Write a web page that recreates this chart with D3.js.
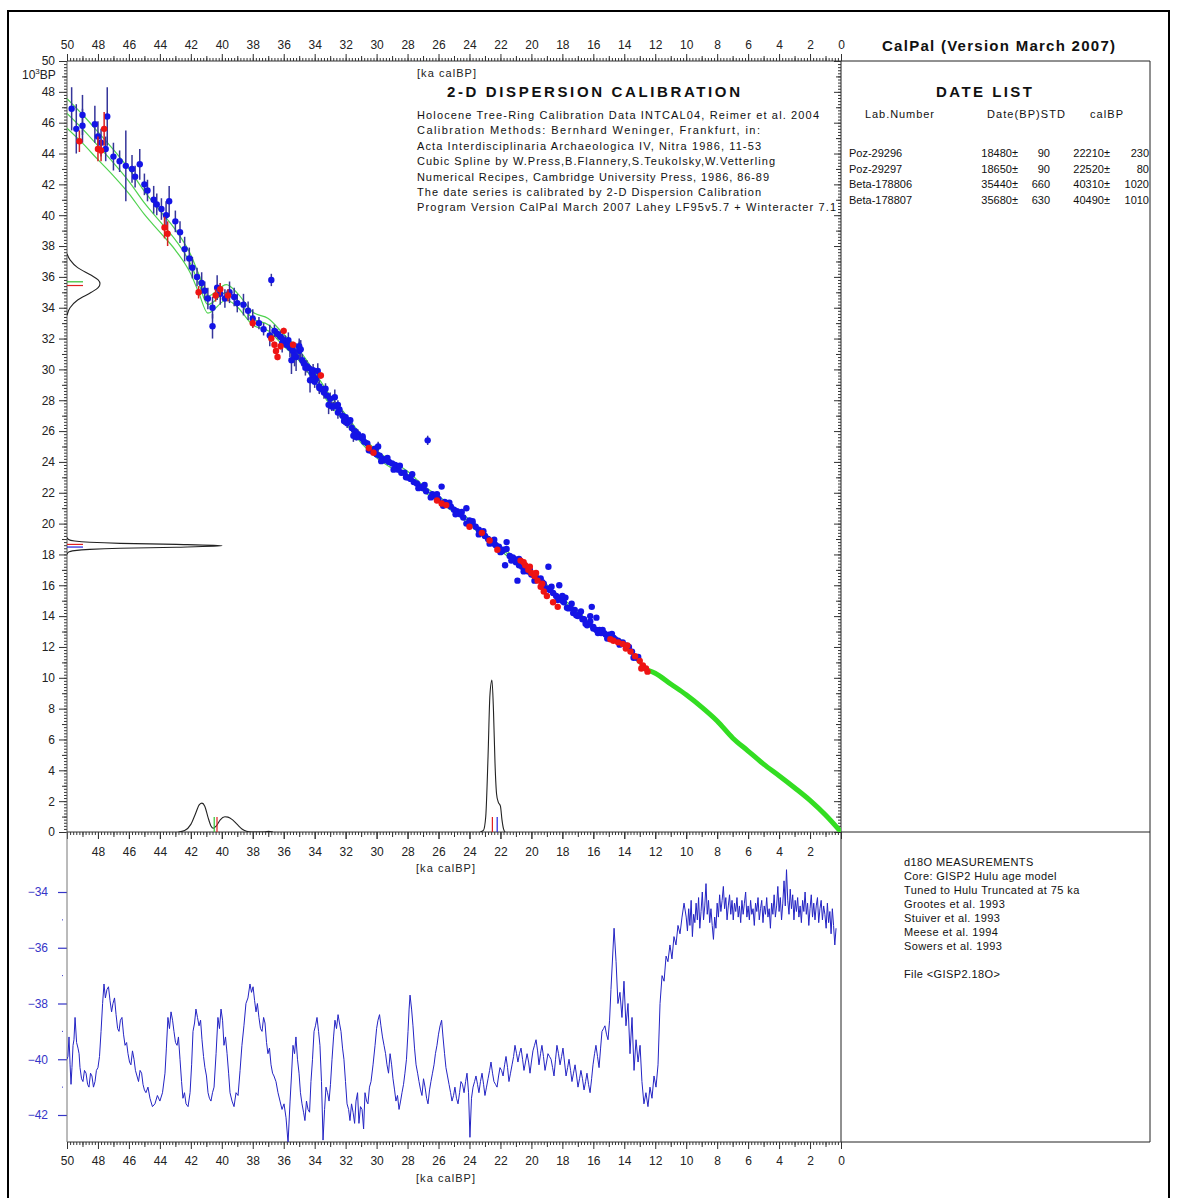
<!DOCTYPE html>
<html>
<head>
<meta charset="utf-8">
<script src="https://cdn.jsdelivr.net/npm/d3@7"></script>
<style>
  body { margin: 0; background: #fff; }
  svg { font-family: "Liberation Sans", Arial, sans-serif; }
</style>
</head>
<body>
<svg id="chart" width="1177" height="1198"></svg>
<script>
// ---------- data ----------
// calibration curve: ka calBP -> 10^3 BP, with 1-sigma
const curveKa  = [0,1,2,3,4,5,6,7,8,9,10,11,12,12.5,13,14,15,16,17,18,19,20,21,22,23,24,25,26,27,28,29,30,31,32,33,34,35,36,37,38,39,39.7,40.9,41.5,42,43,44,45,46,47,48,49,50];
const curveBP  = [0,1.1,2.05,2.87,3.65,4.4,5.25,6.1,7.2,8.1,8.9,9.6,10.3,10.5,11.0,12.2,12.7,13.2,14.2,15.0,15.9,16.7,17.6,18.4,19.2,20.1,20.9,21.6,22.3,23.2,23.8,24.5,25.5,26.8,28.0,29.5,30.9,31.9,32.9,33.3,34.5,35.0,34.2,35.6,36.8,38.4,39.6,40.8,42.2,43.4,44.5,45.6,46.6];
const curveSig = [0.03,0.03,0.03,0.03,0.03,0.03,0.03,0.03,0.03,0.03,0.03,0.03,0.03,0.03,0.12,0.12,0.12,0.13,0.13,0.14,0.14,0.15,0.15,0.15,0.16,0.16,0.17,0.18,0.19,0.2,0.22,0.24,0.26,0.28,0.3,0.32,0.35,0.38,0.4,0.42,0.45,0.5,0.55,0.6,0.62,0.66,0.7,0.75,0.8,0.85,0.9,0.93,0.96];

// calibration data points [ka calBP, 10^3 BP, error]
const bluePoints = [
  [49.7,46.9,1.4],[49.4,45.6,1.6],[49.0,46.5,1.3],[49.0,45.8,1.1],[48.2,45.9,1.2],[48.0,45.1,1.0],[47.8,44.7,0.9],[47.4,46.4,1.9],
  [47.5,44.3,0.8],[47.0,43.8,0.9],[46.6,43.5,0.7],[46.2,43.2,2.3],[45.8,43.0,0.9],[45.6,42.5,0.7],[45.3,43.3,1.0],[45.0,42.0,0.7],
  [44.8,41.6,0.7],[44.4,41.0,0.9],[44.2,40.7,0.7],[43.9,40.4,0.7],[43.6,40.0,0.9],[43.4,40.9,1.0],[43.0,39.6,0.7],[42.7,38.9,0.7],
  [42.4,37.8,0.8],[42.1,37.2,0.7],[41.9,36.6,0.7],[41.6,36.0,0.6],[41.3,35.6,0.7],[41.1,35.1,0.6],[40.9,34.6,0.7],[40.6,34.0,0.7],
  [40.6,32.8,0.8],[40.3,35.3,0.8],[40.1,34.9,0.7],[39.8,34.6,0.6],[39.5,35.0,0.7],[39.2,34.7,0.6],[39.0,34.3,0.6],[38.6,34.2,0.7],
  [38.3,33.8,0.6],[38.0,33.3,0.6],[37.6,33.0,0.4],[37.3,32.6,0.4],[36.8,35.8,0.4],[36.9,32.2,0.7],[36.6,32.5,0.4],[36.2,32.1,0.4],
  [35.9,31.8,0.4],[35.6,31.4,0.6],[35.2,30.8,0.9],[35.0,31.5,0.5],[34.8,30.6,0.4],[34.5,30.2,0.4],[34.2,29.8,0.4],[34.0,29.2,0.4],
  [33.7,28.9,0.4],[33.4,28.5,0.4],[33.0,28.1,0.4],[32.8,27.6,0.3],[32.5,27.2,0.4],[32.2,27.0,0.3],[31.9,26.5,0.3],[31.6,26.2,0.3],
  [31.2,25.8,0.3],[30.9,25.5,0.2],[30.6,25.2,0.2],[30.3,24.7,0.2],[30.0,24.5,0.2],[29.6,24.2,0.2],[29.2,24.0,0.2],[28.8,23.8,0.2],
  [28.4,23.3,0.2],[28.0,23.0,0.2],[27.6,22.7,0.2],[27.2,22.4,0.2],[26.7,25.4,0.3],[26.8,22.1,0.1],[26.4,21.9,0.1],[25.8,22.4,0.1],
  [25.6,21.4,0.1],[25.2,21.1,0.1],[24.8,20.8,0.1],[24.4,20.4,0.1],[24.2,21.0,0.1],[23.8,20.0,0.1],[23.4,19.6,0.1],[23.0,19.2,0.1],
  [22.6,18.8,0.1],[22.3,18.6,0.1],[21.9,18.2,0.1],[21.6,18.8,0.1],[21.7,17.3,0.1],[21.4,17.9,0.1],[21.1,17.7,0.1],[20.9,16.3,0.1],
  [20.8,17.3,0.1],[20.4,17.0,0.1],[20.0,16.7,0.1],[19.6,16.4,0.1],[19.2,16.1,0.1],[18.9,17.2,0.1],[18.8,15.7,0.1],[18.4,15.3,0.1],
  [18.2,16.0,0.1],[18.0,15.0,0.1],[17.8,15.2,0.1],[17.6,14.5,0.1],[17.3,14.2,0.1],[17.0,14.0,0.1],[16.7,13.8,0.1],[16.4,13.4,0.1],
  [16.1,14.6,0.1],[16.2,14.0,0.1],[15.8,13.9,0.1],[16.0,13.2,0.1],[15.6,13.1,0.1],[15.3,12.9,0.1],[15.0,12.8,0.1],[14.7,12.6,0.1],
  [14.4,12.4,0.1],[14.1,12.3,0.1],[13.8,12.0,0.1],
  [13.2,11.3,0.08],[13.5,11.7,0.08],[13.9,12.1,0.08],[14.2,12.25,0.08],[14.6,12.5,0.08],[14.9,12.65,0.08],[15.2,12.8,0.08],[15.5,12.9,0.08],
  [15.8,13.1,0.08],[16.0,13.3,0.08],[16.3,13.5,0.08],[16.6,13.8,0.08],[16.9,14.1,0.08],[17.2,14.4,0.08],[17.5,14.55,0.08],[17.9,14.9,0.08],
  [18.1,15.2,0.08],[18.6,15.5,0.08],[19.0,15.8,0.08],[19.3,16.2,0.08],[19.7,16.5,0.08],[20.2,16.9,0.08],[20.6,17.2,0.08],[21.0,17.5,0.08],
  [21.2,17.8,0.08],[21.8,18.3,0.08],[22.1,18.5,0.08],[22.4,18.7,0.08],[22.8,19.0,0.08],[23.2,19.4,0.08],[23.6,19.8,0.08],[24.0,20.2,0.08],
  [24.6,20.6,0.08],[25.0,20.9,0.08],[25.4,21.3,0.08],[26.0,21.6,0.08],[26.2,21.75,0.08],[27.0,22.3,0.1],[27.4,22.6,0.1],[27.8,22.9,0.1],
  [28.2,23.3,0.1],[28.6,23.5,0.1],[29.0,23.9,0.1],[29.4,24.1,0.1],[29.8,24.4,0.12],[30.2,24.8,0.12],[30.8,25.3,0.15],[31.0,25.6,0.15],
  [31.4,26.0,0.15],[31.8,26.6,0.15],[32.0,26.9,0.15],[32.4,27.4,0.2],[32.6,27.6,0.2],[33.2,28.3,0.2],[33.5,28.7,0.2],[33.9,29.4,0.2],
  [34.1,29.6,0.2],[34.4,30.1,0.2],[34.7,30.4,0.2],[35.4,31.2,0.25],[35.8,31.6,0.25],[36.0,31.9,0.3],[36.4,32.3,0.3],
  [13.1,11.35,0.08],[13.4,11.3,0.08],[13.7,12.0,0.08],[14.3,12.15,0.08],[14.8,12.85,0.08],[15.1,12.55,0.08],[15.4,13.1,0.08],[15.7,12.9,0.08],
  [16.2,13.65,0.08],[16.5,13.5,0.08],[16.8,14.3,0.08],[17.1,14.05,0.08],[17.4,14.8,0.08],[17.7,14.55,0.08],[18.0,15.3,0.08],[18.3,15.05,0.08],
  [18.7,15.9,0.08],[19.1,15.75,0.08],[19.4,16.45,0.08],[19.8,16.3,0.08],[20.1,17.0,0.08],[20.5,16.9,0.08],[20.8,17.7,0.08],[21.3,17.6,0.08],
  [21.6,18.35,0.08],[22.0,18.15,0.08],[22.4,18.95,0.08],[22.7,18.7,0.08],[23.1,19.5,0.08],[23.4,19.3,0.08],[23.8,20.15,0.08],[24.2,20.0,0.08],
  [24.5,20.75,0.08],[24.9,20.6,0.08],[25.3,21.35,0.08],[25.7,21.15,0.08],[26.1,21.9,0.08],[26.5,21.7,0.08],[26.9,22.5,0.1],[27.3,22.3,0.1],
  [27.7,23.2,0.1],[28.1,23.0,0.1],[28.5,23.75,0.1],[28.9,23.5,0.1],[29.3,24.25,0.12],[29.7,24.05,0.12],[30.1,24.85,0.15],[30.5,24.75,0.15],
  [30.9,25.65,0.2],[31.3,25.6,0.2],[31.7,26.7,0.2],[32.1,26.65,0.25],[32.5,27.7,0.3],[32.9,27.6,0.3],[33.3,28.75,0.35],[33.7,28.8,0.4],
  [34.1,29.95,0.4],[34.6,30.1,0.5],[35.0,31.2,0.6],[35.3,30.9,0.7],[35.7,31.9,0.5],[36.1,31.7,0.6],
  [35.5,30.6,0.9],[34.9,31.3,0.6],[34.3,29.3,0.8],[33.8,29.9,0.5],[33.1,27.7,0.6],[32.7,28.2,0.5],[31.5,25.7,0.4],[29.9,25.0,0.3]
];
const redPoints = [
  [49.2,44.8,0.7],[48.0,44.3,0.8],[47.6,45.6,1.1],[47.8,44.2,0.7],[43.7,39.2,0.7],[43.5,38.8,0.8],[41.5,35.0,0.4],[40.4,34.8,0.4],
  [40.1,35.2,0.4],[39.6,34.8,0.4],[38.0,33.0,0.3],[36.8,32.0,0.2],[36.6,31.6,0.2],[36.5,31.2,0.2],[36.4,30.8,0.2],[36.2,31.5,0.2],
  [36.0,32.5,0.2],[35.4,31.6,0.2],[33.6,29.6,0.2],[30.5,24.9,0.2],[30.2,24.6,0.2],[26.1,21.5,0.1],[25.8,21.3,0.1],[25.5,21.2,0.1],
  [24.0,19.8,0.1],[23.2,19.4,0.1],[22.7,18.9,0.1],[22.2,18.3,0.1],[20.7,17.6,0.1],[20.4,17.3,0.1],[20.2,17.0,0.1],[20.0,16.8,0.1],
  [19.8,16.6,0.1],[19.6,16.3,0.1],[19.4,15.9,0.1],[19.2,15.6,0.1],[19.0,15.3,0.1],[18.6,14.9,0.1],[18.3,14.6,0.1],[14.7,12.4,0.1],
  [14.4,12.3,0.1],[14.1,12.2,0.1],[13.8,12.1,0.1],[13.6,11.7,0.1],[13.3,11.4,0.1],[13.0,11.1,0.1],[12.8,10.8,0.1],[12.5,10.4,0.1],
  [20.5,17.5,0.1],[20.1,17.2,0.1],[19.7,16.8,0.1],[19.3,16.1,0.1],[14.9,12.5,0.1],[13.9,11.9,0.1],[12.9,10.6,0.1],[12.6,10.6,0.1]
];

// date list
const labNumbers = ["Poz-29296", "Poz-29297", "Beta-178806", "Beta-178807"];
const datesBP    = [18480, 18650, 35440, 35680];
const datesStd   = [90, 90, 660, 630];
const calBP      = [22210, 22520, 40310, 40490];
const calStd     = [230, 80, 1020, 1010];
const dateColors = ["#2020e0", "#e02020", "#e02020", "#30c030"];

// probability curves: 14C side [10^3 BP, density] and calendar side [ka calBP, density]
const probBP1  = [[33.5,0],[34.0,0.02],[34.5,0.07],[35.0,0.16],[35.3,0.205],[35.56,0.217],[35.8,0.205],[36.1,0.16],[36.6,0.07],[37.1,0.02],[37.5,0]];
const probBP2  = [[18.0,0],[18.15,0.01],[18.25,0.05],[18.33,0.15],[18.40,0.35],[18.47,0.72],[18.56,1.02],[18.65,0.72],[18.72,0.35],[18.79,0.15],[18.87,0.05],[18.97,0.01],[19.1,0]];
const probCal1 = [[42.8,0],[42.4,0.01],[42.0,0.05],[41.7,0.12],[41.45,0.18],[41.28,0.19],[41.1,0.17],[40.9,0.1],[40.7,0.04],[40.55,0.025],[40.35,0.04],[40.1,0.08],[39.8,0.1],[39.6,0.098],[39.3,0.08],[39.0,0.05],[38.7,0.02],[38.4,0.005],[38.1,0],[37.3,0],[37.0,0.004],[36.7,0]];
const probCal2 = [[23.3,0],[23.1,0.01],[22.95,0.1],[22.8,0.5],[22.68,0.9],[22.55,1.0],[22.45,0.8],[22.35,0.45],[22.25,0.25],[22.15,0.2],[22.0,0.17],[21.9,0.08],[21.8,0.02],[21.7,0]];

// GISP2 d18O, [ka calBP, permil]
const d18oGlacial = [
  [50.00,-40.0],[49.87,-39.2],[49.74,-40.9],[49.61,-39.5],[49.48,-38.5],[49.29,-39.6],[49.16,-40.3],[48.97,-40.8],[48.77,-40.5],[48.58,-41.0],
  [48.39,-40.6],[48.19,-40.8],[48.00,-40.3],[47.80,-39.0],[47.61,-37.3],[47.42,-37.5],[47.22,-37.9],[47.03,-38.0],[46.83,-38.4],[46.64,-39.0],
  [46.45,-38.5],[46.25,-39.5],[46.06,-39.8],[45.87,-40.2],[45.67,-40.0],[45.48,-40.6],[45.28,-40.4],[45.09,-40.9],[44.90,-41.2],[44.64,-41.4],
  [44.32,-41.6],[44.00,-41.5],[43.67,-40.5],[43.48,-38.5],[43.28,-38.3],[43.09,-39.0],[42.89,-39.5],[42.70,-40.0],[42.51,-41.4],[42.31,-41.6],
  [42.05,-41.2],[41.86,-39.0],[41.67,-38.2],[41.47,-38.8],[41.28,-39.3],[41.09,-40.3],[40.89,-41.2],[40.70,-41.5],[40.50,-41.0],[40.25,-38.5],
  [40.05,-38.2],[39.86,-39.5],[39.66,-39.8],[39.47,-41.2],[39.21,-41.7],[38.95,-41.3],[38.70,-39.5],[38.44,-38.0],[38.18,-37.3],[37.98,-37.4],
  [37.79,-38.3],[37.60,-38.5],[37.40,-39.0],[37.21,-38.7],[37.02,-39.8],[36.82,-40.2],[36.63,-40.6],[36.37,-41.2],[36.11,-41.8],[35.85,-42.1],
  [35.72,-43.0],[35.59,-41.5],[35.40,-39.5],[35.21,-39.2],[35.01,-40.5],[34.82,-41.6],[34.63,-42.2],[34.43,-41.8],[34.24,-40.8],[34.04,-39.0],
  [33.85,-38.5],[33.66,-39.5],[33.46,-42.9],[33.27,-41.0],[33.07,-41.5],[32.88,-40.0],[32.69,-38.6],[32.49,-38.4],[32.30,-39.0],[32.11,-40.0],
  [31.91,-41.6],[31.72,-42.2],[31.52,-41.9],[31.33,-41.5],[31.14,-42.3],[30.94,-41.8],[30.75,-41.2],[30.56,-41.6],[30.36,-40.8],[30.10,-39.5],
  [29.91,-38.6],[29.72,-38.8],[29.52,-39.5],[29.33,-40.2],[29.13,-39.8],[28.94,-40.7],[28.75,-41.5],[28.55,-41.8],[28.36,-41.2],[28.17,-40.5],
  [27.97,-39.0],[27.84,-37.7],[27.65,-38.8],[27.45,-40.2],[27.26,-40.8],[27.07,-41.3],[26.87,-41.0],[26.68,-41.6],[26.49,-40.8],[26.29,-40.2],
  [26.10,-39.5],[25.90,-38.8],[25.71,-39.2],[25.52,-40.3],[25.32,-40.9],[25.13,-41.5],[24.94,-41.0],[24.74,-41.6],[24.55,-40.8],[24.35,-41.2],
  [24.16,-40.5],[23.97,-42.8],[23.77,-41.0],[23.58,-40.6],[23.39,-41.2],[23.19,-40.5],[23.00,-41.3],[22.80,-40.7],[22.61,-40.1],[22.42,-40.8],
  [22.22,-41.0],[22.03,-40.3],[21.83,-40.6],[21.64,-39.9],[21.45,-40.8],[21.25,-40.2],[21.06,-39.5],[20.87,-40.1],[20.67,-39.6],[20.48,-40.4],
  [20.28,-39.8],[20.09,-40.5],[19.90,-39.7],[19.70,-39.3],[19.51,-40.2],[19.32,-39.5],[19.12,-40.4],[18.93,-39.8],[18.73,-40.0],[18.54,-40.6],
  [18.35,-39.5],[18.15,-40.2],[17.96,-39.6],[17.76,-40.6],[17.57,-40.0],[17.38,-40.8],[17.18,-40.2],[16.99,-41.0],[16.80,-40.4],[16.60,-41.1],
  [16.41,-40.5],[16.21,-41.2],[16.02,-40.2],[15.83,-39.5],[15.63,-40.3],[15.44,-39.0],[15.25,-38.8],[15.05,-39.3],[14.86,-37.5],[14.66,-35.3],
  [14.53,-36.5],[14.41,-38.0],[14.28,-37.6],[14.15,-38.5],[14.02,-37.2],[13.89,-38.8],[13.76,-38.0],[13.63,-39.8],[13.50,-38.5],[13.37,-40.4],
  [13.24,-39.3],[13.11,-40.1],[12.98,-39.5],[12.86,-40.8],[12.73,-41.6],[12.60,-41.2],[12.47,-41.7],[12.34,-41.0],[12.21,-41.4],[12.08,-40.6],
  [11.95,-41.0],[11.82,-40.2],[11.69,-38.0],[11.56,-37.0],[11.43,-37.2],[11.30,-36.3],[11.18,-36.5],[11.05,-35.9],[10.92,-36.4],[10.79,-35.6],
  [10.66,-35.9],[10.53,-35.2],[10.40,-35.5],[10.27,-34.9],[10.14,-34.4]
];
// extra, finer glacial samples between the ones above
const d18oDetail = [
  [49.94,-39.9],[49.80,-40.2],[49.68,-40.3],[49.55,-39.3],[49.38,-39.4],[49.22,-39.8],[49.06,-40.7],[48.87,-40.4],[48.67,-40.9],[48.48,-40.5],
  [48.29,-41.0],[48.10,-40.4],[47.90,-39.9],[47.70,-38.0],[47.52,-37.8],[47.32,-37.4],[47.12,-38.3],[46.93,-37.8],[46.73,-38.9],[46.55,-38.6],
  [46.35,-39.1],[46.15,-39.4],[45.96,-40.1],[45.77,-39.7],[45.58,-40.4],[45.38,-40.8],[45.18,-40.5],[45.00,-41.1],[44.77,-41.0],[44.48,-41.7],
  [44.16,-41.3],[43.83,-41.2],[43.58,-39.6],[43.38,-38.9],[43.18,-38.6],[42.99,-39.4],[42.80,-39.2],[42.60,-40.8],[42.41,-41.2],[42.18,-41.7],
  [41.95,-40.2],[41.76,-38.7],[41.57,-38.5],[41.37,-38.6],[41.18,-39.9],[40.99,-40.6],[40.80,-41.4],[40.60,-41.2],[40.37,-39.8],[40.15,-38.9],
  [39.95,-38.6],[39.76,-39.2],[39.56,-40.5],[39.34,-41.5],[39.08,-41.2],[38.82,-40.4],[38.57,-38.8],[38.31,-37.8],[38.08,-37.6],[37.88,-37.9],
  [37.70,-38.0],[37.50,-38.9],[37.30,-38.5],[37.11,-39.4],[36.92,-39.6],[36.72,-40.5],[36.50,-40.8],[36.24,-41.5],[35.98,-41.6],[35.50,-40.6],
  [35.30,-39.8],[35.11,-40.0],[34.92,-41.2],[34.72,-41.9],[34.53,-41.5],[34.33,-41.9],[34.14,-40.0],[33.95,-38.8],[33.75,-39.0],[33.56,-40.8],
  [33.36,-41.8],[33.17,-41.2],[32.98,-40.9],[32.78,-39.2],[32.59,-38.9],[32.40,-38.7],[32.20,-39.6],[32.01,-40.8],[31.81,-41.8],[31.62,-41.6],
  [31.42,-42.3],[31.23,-41.2],[31.04,-41.7],[30.84,-42.5],[30.65,-41.5],[30.46,-41.0],[30.23,-40.2],[30.00,-38.9],[29.81,-38.4],[29.62,-39.2],
  [29.42,-39.8],[29.23,-40.5],[29.03,-40.2],[28.84,-41.1],[28.65,-41.3],[28.45,-41.5],[28.26,-40.9],[28.07,-40.0],[27.90,-38.2],[27.74,-38.2],
  [27.55,-39.6],[27.35,-40.5],[27.16,-41.1],[26.97,-40.7],[26.77,-41.4],[26.58,-41.1],[26.39,-40.5],[26.20,-39.8],[26.00,-39.1],[25.80,-38.6],
  [25.61,-39.8],[25.42,-40.6],[25.22,-41.2],[25.03,-41.3],[24.84,-41.4],[24.64,-41.2],[24.45,-40.9],[24.25,-40.8],[24.06,-41.2],[23.87,-41.4],
  [23.67,-40.8],[23.48,-40.9],[23.29,-40.8],[23.09,-40.9],[22.90,-41.0],[22.70,-40.4],[22.51,-40.5],[22.32,-40.9],[22.12,-40.6],[21.93,-40.4],
  [21.73,-40.2],[21.54,-40.3],[21.35,-40.5],[21.15,-39.9],[20.96,-39.8],[20.77,-39.8],[20.57,-40.0],[20.38,-40.1],[20.18,-40.1],[20.00,-40.1],
  [19.80,-39.5],[19.60,-39.7],[19.41,-39.8],[19.22,-39.9],[19.02,-40.1],[18.83,-39.9],[18.63,-40.3],[18.44,-40.0],[18.25,-39.8],[18.05,-39.9],
  [17.86,-40.1],[17.66,-40.3],[17.47,-40.4],[17.28,-40.5],[17.08,-40.6],[16.89,-40.7],[16.70,-40.7],[16.50,-40.8],[16.31,-40.9],[16.11,-40.7],
  [15.92,-39.8],[15.73,-39.9],[15.53,-39.6],[15.34,-38.9],[15.15,-39.1],[14.95,-38.6]
];
// Holocene part, evenly sampled from 10.0 ka every 0.08 ka
const d18oHoloStart = 10.0, d18oHoloStep = 0.08;
const d18oHolocene = [
  -34.9,-35.4,-34.6,-35.2,-34.3,-35.6,-34.8,-35.1,-34.4,-35.0,
  -34.2,-35.3,-34.7,-34.0,-35.0,-34.5,-33.7,-34.8,-34.3,-35.1,
  -34.6,-35.2,-35.7,-34.9,-35.3,-34.4,-34.9,-34.1,-34.7,-34.3,
  -33.8,-34.6,-34.2,-35.0,-34.5,-34.1,-34.8,-34.3,-35.0,-34.4,
  -34.7,-34.2,-34.9,-34.5,-35.1,-34.3,-34.8,-34.4,-34.0,-34.9,
  -34.5,-35.0,-34.3,-34.8,-34.6,-35.2,-34.4,-34.7,-34.2,-35.0,
  -34.6,-34.3,-35.1,-34.5,-34.8,-34.2,-34.9,-34.6,-35.3,-34.4,
  -34.8,-34.1,-34.9,-34.5,-33.8,-34.7,-34.2,-35.0,-34.4,-33.6,
  -34.5,-33.2,-34.3,-34.8,-33.9,-34.6,-34.1,-35.0,-34.3,-34.7,
  -34.2,-34.9,-34.5,-35.1,-34.3,-34.7,-34.0,-34.8,-34.4,-35.2,
  -34.6,-34.1,-34.9,-34.4,-35.0,-34.5,-34.2,-35.1,-34.6,-34.3,
  -35.0,-34.5,-34.8,-35.3,-34.4,-35.1,-34.7,-35.5,-34.6,-35.2,
  -35.9,-35.3
];

// texts
const infoLines = [
  "Holocene Tree-Ring Calibration Data INTCAL04, Reimer et al. 2004",
  "Calibration Methods:  Bernhard Weninger, Frankfurt, in:",
  "Acta Interdisciplinaria Archaeologica IV, Nitra 1986, 11-53",
  "Cubic Spline by  W.Press,B.Flannery,S.Teukolsky,W.Vetterling",
  "Numerical Recipes, Cambridge University Press, 1986, 86-89",
  "The date series is calibrated by 2-D Dispersion Calibration",
  "Program Version CalPal March 2007 Lahey LF95v5.7 + Winteracter 7.1"
];
const infoWidths = [402, 343, 344, 358, 352, 344, 419];
const d18oLines = [
  "d18O MEASUREMENTS",
  "Core: GISP2 Hulu age model",
  "Tuned to Hulu Truncated at 75 ka",
  "Grootes et al. 1993",
  "Stuiver et al. 1993",
  "Meese et al. 1994",
  "Sowers et al. 1993",
  "",
  "File <GISP2.18O>"
];

// ---------- layout ----------
const L = 67, R = 841, T = 61, B = 832, B2 = 1142, RR = 1150;
const svg = d3.select("#chart");

const x = d3.scaleLinear().domain([50, 0]).range([L, R]);
const y = d3.scaleLinear().domain([0, 50]).range([B, T]);
const yO = d3.scaleLinear().domain([-34, -42]).range([892, 1115]);
const dens = d3.scaleLinear().domain([0, 1]).range([0, 152]);

const minorVals = d3.range(0, 251).map(i => i / 5);
const oddVals = d3.range(1, 50, 2);
const evenVals = d3.range(0, 51, 2);

// outer frame
svg.append("rect")
  .attr("x", 8).attr("y", 11).attr("width", 1161).attr("height", 1200)
  .attr("fill", "none").attr("stroke", "#000").attr("stroke-width", 2);

// right panels
svg.append("path")
  .attr("d", `M${R},${T}H${RR}V${B2}H${R}M${R},${B}H${RR}`)
  .attr("fill", "none").attr("stroke", "#222").attr("stroke-width", 1);
svg.append("line").attr("x1", R).attr("x2", R).attr("y1", T).attr("y2", B2).attr("stroke", "#222");

// ---------- axes helper ----------
function tickLayer(g, axis, vals, size, labels) {
  const a = axis.tickValues(vals).tickSize(size).tickSizeOuter(0);
  if (!labels) a.tickFormat("");
  const sel = g.append("g").call(a);
  sel.select(".domain").remove();
  sel.attr("font-family", null).attr("font-size", null);
  sel.selectAll("line").attr("stroke", "#333");
  return sel;
}

// top axis
const gTop = svg.append("g").attr("transform", `translate(0,${T})`);
tickLayer(gTop, d3.axisTop(x), minorVals, 3);
tickLayer(gTop, d3.axisTop(x), oddVals, 5);
tickLayer(gTop, d3.axisTop(x).tickPadding(5).tickFormat(d3.format("d")), evenVals, 7, true)
  .selectAll("text").attr("font-size", 12).attr("fill", "#222");
gTop.append("line").attr("x1", L).attr("x2", R).attr("stroke", "#333");

// left axis (upper)
const gLeft = svg.append("g").attr("transform", `translate(${L},0)`);
tickLayer(gLeft, d3.axisLeft(y), minorVals, 3);
tickLayer(gLeft, d3.axisLeft(y), oddVals, 5);
tickLayer(gLeft, d3.axisLeft(y).tickPadding(4).tickFormat(d3.format("d")), evenVals, 8, true)
  .selectAll("text").attr("font-size", 12).attr("fill", "#222");
gLeft.append("line").attr("y1", T).attr("y2", B).attr("stroke", "#555");

// right axis (upper, inward ticks)
const gRight = svg.append("g").attr("transform", `translate(${R},0)`);
tickLayer(gRight, d3.axisRight(y), minorVals, -3);
tickLayer(gRight, d3.axisRight(y), oddVals, -5);
tickLayer(gRight, d3.axisRight(y), evenVals, -7);

// bottom axis of upper panel
const gMid = svg.append("g").attr("transform", `translate(0,${B})`);
tickLayer(gMid, d3.axisBottom(x), minorVals, 3);
tickLayer(gMid, d3.axisBottom(x), oddVals, 5);
tickLayer(gMid, d3.axisBottom(x), evenVals, 7);
tickLayer(gMid, d3.axisBottom(x).tickPadding(8).tickFormat(d3.format("d")), d3.range(2, 49, 2), 7, true)
  .selectAll("text").attr("font-size", 12).attr("fill", "#222");
gMid.append("line").attr("x1", L).attr("x2", R).attr("stroke", "#333");

// bottom axis of lower panel
const gBot = svg.append("g").attr("transform", `translate(0,${B2})`);
tickLayer(gBot, d3.axisBottom(x), minorVals, 3);
tickLayer(gBot, d3.axisBottom(x), oddVals, 5);
tickLayer(gBot, d3.axisBottom(x).tickPadding(7).tickFormat(d3.format("d")), evenVals, 7, true)
  .selectAll("text").attr("font-size", 12).attr("fill", "#222");
gBot.append("line").attr("x1", L).attr("x2", R).attr("stroke", "#333");

// lower y axis (d18O)
const gO = svg.append("g").attr("transform", `translate(${L},0)`);
const oAx = tickLayer(gO, d3.axisLeft(yO).tickPadding(10).tickFormat(d3.format("d")), [-34, -36, -38, -40, -42], 9, true);
oAx.selectAll("line").attr("stroke", "#3535c8").attr("stroke-width", 1.2);
oAx.selectAll("text").attr("font-size", 12).attr("fill", "#3535c8");
gO.selectAll("line.minor").data([-35, -37, -39, -41]).join("line")
  .attr("class", "minor")
  .attr("x1", -5).attr("x2", -4)
  .attr("y1", d => yO(d)).attr("y2", d => yO(d))
  .attr("stroke", "#3535c8");
gO.append("line").attr("y1", B).attr("y2", B2).attr("stroke", "#777");

// axis titles
svg.append("text").attr("x", 22).attr("y", 79).attr("font-size", 12).attr("fill", "#222")
  .call(t => {
    t.append("tspan").text("10");
    t.append("tspan").attr("dy", -5).attr("font-size", 8).text("3");
    t.append("tspan").attr("dy", 5).text("BP");
  });
[[417, 77], [416, 872], [416, 1182]].forEach(([tx, ty]) => {
  svg.append("text").attr("x", tx).attr("y", ty).attr("font-size", 11)
    .attr("fill", "#222").attr("textLength", 59).text("[ka calBP]");
});

// ---------- upper plot ----------
const clipU = svg.append("clipPath").attr("id", "clipU");
clipU.append("rect").attr("x", L).attr("y", T).attr("width", R - L).attr("height", B - T);
const plot = svg.append("g").attr("clip-path", "url(#clipU)");

const curve = curveKa.map((k, i) => ({ ka: k, bp: curveBP[i], s: curveSig[i] }));
const bandLine = off => d3.line().x(d => x(d.ka)).y(d => y(d.bp + off * d.s)).curve(d3.curveMonotoneX);
const older = curve.filter(d => d.ka >= 12.5);

plot.selectAll("path.band").data([-1, 0, 1]).join("path")
  .attr("class", "band")
  .attr("d", off => bandLine(off)(older))
  .attr("fill", "none").attr("stroke", "#4fd24f").attr("stroke-width", 1.2);

plot.append("path")
  .attr("d", bandLine(0)(curve.filter(d => d.ka <= 12.6)))
  .attr("fill", "none").attr("stroke", "#33dd22").attr("stroke-width", 5);

// error bars + dots
function drawPoints(data, barColor, dotColor, cls) {
  plot.selectAll(`line.${cls}`).data(data).join("line")
    .attr("class", cls)
    .attr("x1", d => x(d[0])).attr("x2", d => x(d[0]))
    .attr("y1", d => y(d[1] - d[2])).attr("y2", d => y(d[1] + d[2]))
    .attr("stroke", barColor).attr("stroke-width", 1.5);
  plot.selectAll(`circle.${cls}`).data(data).join("circle")
    .attr("class", cls)
    .attr("cx", d => x(d[0])).attr("cy", d => y(d[1]))
    .attr("r", 3.2).attr("fill", dotColor);
}
drawPoints(bluePoints, "#35359a", "#1414e6", "bp");
drawPoints(redPoints, "#d82020", "#ee1414", "rp");

// probability curves
const probLeft = d3.line().x(d => L + dens(d[1])).y(d => y(d[0])).curve(d3.curveMonotoneY);
const probBottom = d3.line().x(d => x(d[0])).y(d => B - dens(d[1])).curve(d3.curveMonotoneX);
plot.selectAll("path.pl").data([probBP1, probBP2]).join("path")
  .attr("class", "pl").attr("d", probLeft)
  .attr("fill", "none").attr("stroke", "#222").attr("stroke-width", 1.1);
plot.selectAll("path.pb").data([probCal1, probCal2.slice().reverse()]).join("path")
  .attr("class", "pb").attr("d", probBottom)
  .attr("fill", "none").attr("stroke", "#222").attr("stroke-width", 1.1);

// date markers
plot.selectAll("line.mBP").data(datesBP).join("line")
  .attr("class", "mBP")
  .attr("x1", L).attr("x2", L + 16)
  .attr("y1", d => y(d / 1000)).attr("y2", d => y(d / 1000))
  .attr("stroke", (d, i) => dateColors[i]).attr("stroke-width", 1.2);
plot.selectAll("line.mCal").data(calBP).join("line")
  .attr("class", "mCal")
  .attr("x1", d => x(d / 1000)).attr("x2", d => x(d / 1000))
  .attr("y1", B).attr("y2", B - 15)
  .attr("stroke", (d, i) => dateColors[i]).attr("stroke-width", 1.2);

// ---------- lower plot ----------
const clipL = svg.append("clipPath").attr("id", "clipL");
clipL.append("rect").attr("x", L).attr("y", B).attr("width", R - L).attr("height", B2 - B);
const holo = d18oHolocene.map((v, i) => [d18oHoloStart - i * d18oHoloStep, v]);
const d18o = d18oGlacial.concat(d18oDetail).sort((a, b) => b[0] - a[0]).concat(holo);
svg.append("path").attr("clip-path", "url(#clipL)")
  .attr("d", d3.line().x(d => x(d[0])).y(d => yO(d[1]))(d18o))
  .attr("fill", "none").attr("stroke", "#2424c4").attr("stroke-width", 1);

// ---------- texts ----------
svg.append("text").attr("x", 447).attr("y", 97).attr("font-size", 15).attr("font-weight", "bold")
  .attr("fill", "#111").attr("textLength", 293).text("2-D DISPERSION CALIBRATION");
svg.selectAll("text.info").data(infoLines).join("text")
  .attr("class", "info")
  .attr("x", 417).attr("y", (d, i) => 119 + i * 15.4)
  .attr("font-size", 11).attr("fill", "#111")
  .attr("textLength", (d, i) => infoWidths[i])
  .text(d => d);

svg.append("text").attr("x", 882).attr("y", 51).attr("font-size", 15).attr("font-weight", "bold")
  .attr("fill", "#111").attr("textLength", 233).text("CalPal (Version March 2007)");
svg.append("text").attr("x", 936).attr("y", 97).attr("font-size", 15).attr("font-weight", "bold")
  .attr("fill", "#111").attr("textLength", 96).text("DATE LIST");

const hdr = [["Lab.Number", 865, 69], ["Date(BP)STD", 987, 78], ["calBP", 1090, 33]];
svg.selectAll("text.hdr").data(hdr).join("text")
  .attr("class", "hdr")
  .attr("x", d => d[1]).attr("y", 118).attr("font-size", 11).attr("fill", "#111")
  .attr("textLength", d => d[2]).text(d => d[0]);

const rows = svg.selectAll("g.row").data(labNumbers).join("g")
  .attr("class", "row")
  .attr("transform", (d, i) => `translate(0,${157 + i * 15.5})`)
  .attr("font-size", 11).attr("fill", "#111");
rows.append("text").attr("x", 849).text(d => d);
rows.append("text").attr("x", 1018).attr("text-anchor", "end").text((d, i) => datesBP[i] + "±");
rows.append("text").attr("x", 1050).attr("text-anchor", "end").text((d, i) => datesStd[i]);
rows.append("text").attr("x", 1110).attr("text-anchor", "end").text((d, i) => calBP[i] + "±");
rows.append("text").attr("x", 1149).attr("text-anchor", "end").text((d, i) => calStd[i]);

svg.selectAll("text.d18").data(d18oLines).join("text")
  .attr("class", "d18")
  .attr("x", 904).attr("y", (d, i) => 866 + i * 14)
  .attr("font-size", 11).attr("fill", "#111")
  .attr("letter-spacing", 0.4)
  .text(d => d);
</script>
</body>
</html>
